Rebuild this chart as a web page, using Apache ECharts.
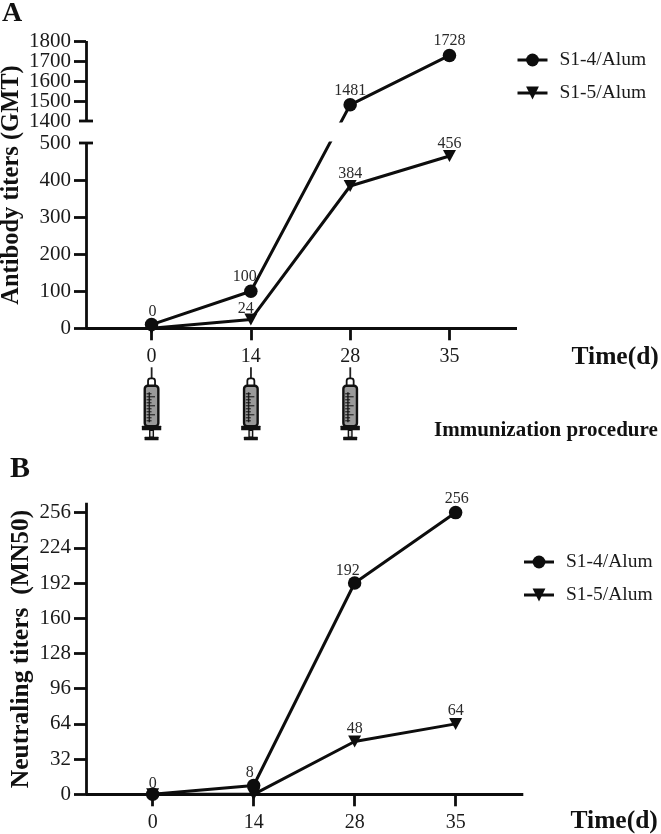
<!DOCTYPE html>
<html>
<head>
<meta charset="utf-8">
<style>html,body{margin:0;padding:0;background:#fff}#c{width:661px;height:834px}</style>
<script src="https://cdn.jsdelivr.net/npm/echarts@6/dist/echarts.min.js"></script>
</head>
<body>
<div id="c"></div>
<script>
// ---- data ----
const days = ['0', '14', '28', '35'];
const seriesNames = ['S1-4/Alum', 'S1-5/Alum'];
const gmtS14 = [10, 100, 1481, 1728];
const gmtS15 = [0, 24, 384, 465];
const gmtS14Labels = ['0', '100', '1481', '1728'];
const gmtS15Labels = ['', '24', '384', '456'];
const mnS14 = [0, 8, 192, 256];
const mnS15 = [0, 0, 48, 64];
const mnS14Labels = ['0', '8', '192', '256'];
const mnS15Labels = ['', '', '48', '64'];
const upperTicksEven = [1400, 1600, 1800];
const upperTicksOdd = [1500, 1700];
const lowerTicks = [0, 100, 200, 300, 400, 500];
const mnTicks = [0, 32, 64, 96, 128, 160, 192, 224, 256];
const doseDays = [0, 1, 2];

// ---- layout and style ----
const FONT = 'Liberation Serif';
const INK = '#0d0d0d';
const LW = 2.8;
const SERIES_LW = 3;
const upperH = 80, lowerH = 185.3, breakGap = 22;
const upperPx = upperH / 400, lowerPx = lowerH / 500;
const xMinA = -0.66, xMaxA = 3.68, xMinB = -0.66, xMaxB = 3.67;

// broken axis: one straight pixel line through both segments
const toLower = v => v <= 500 ? v : 500 + (breakGap + (v - 1400) * upperPx) / lowerPx;
const toUpper = v => v >= 1400 ? v : 1400 - (breakGap + (500 - v) * lowerPx) / upperPx;

const offA14 = [[1, -13], [-6, -14], [0, -14], [0, -15]];
const offA15 = [[0, 0], [-5, -11], [0, -12], [0, -12]];
const offB14 = [[0, -11], [-4, -13], [-7, -12], [1, -14]];
const offB15 = [[0, 0], [0, 0], [0, -13], [0, -13]];

const labelBase = {show: true, position: 'inside', color: '#2a2a2a', fontFamily: FONT, fontSize: 16};
const symbols = [
  {symbol: 'circle', symbolSize: 13.5, symbolRotate: 0},
  {symbol: 'triangle', symbolSize: [13, 12], symbolRotate: 180}
];

function line(name, idx, gridIdx, values, map, visible, labels, offs, z) {
  return Object.assign({
    type: 'line', name, xAxisIndex: gridIdx, yAxisIndex: gridIdx, clip: true, z,
    lineStyle: {color: INK, width: SERIES_LW}, itemStyle: {color: INK},
    showSymbol: true, animation: false,
    data: values.map((v, i) => {
      const shown = visible(v);
      return {
        value: [i, map(v)],
        symbol: shown ? symbols[idx].symbol : 'none',
        label: shown && labels[i] ? Object.assign({}, labelBase, {offset: offs[i], formatter: labels[i]}) : {show: false}
      };
    })
  }, symbols[idx]);
}

const axisStyle = {lineStyle: {color: INK, width: LW, cap: 'butt'}};
function yAxis(gridIdx, min, max, labelVals, tickVals, showLine) {
  return {
    type: 'value', gridIndex: gridIdx, min, max, position: 'left',
    axisLine: Object.assign({show: showLine, onZero: false}, axisStyle),
    axisTick: Object.assign({show: true, length: 12, inside: false, customValues: tickVals}, axisStyle),
    axisLabel: {show: true, customValues: labelVals, formatter: v => String(v), showMinLabel: true, showMaxLabel: true,
      margin: 15, color: '#1a1a1a', fontFamily: FONT, fontSize: 21},
    splitLine: {show: false}
  };
}
function xAxis(gridIdx, min, max, visible) {
  return {
    type: 'value', gridIndex: gridIdx, min, max, show: visible, position: 'bottom',
    axisLine: Object.assign({show: true, onZero: false}, axisStyle),
    axisTick: Object.assign({show: true, length: 12, customValues: [0, 1, 2, 3]}, axisStyle),
    axisLabel: {show: true, customValues: [0, 1, 2, 3], formatter: v => days[v], margin: 18,
      color: '#1a1a1a', fontFamily: FONT, fontSize: 20, showMinLabel: true, showMaxLabel: true},
    splitLine: {show: false}
  };
}

// break caps at the segment ends
function capSeries(gridIdx, xv, yv) {
  return {
    type: 'custom', xAxisIndex: gridIdx, yAxisIndex: gridIdx, silent: true, clip: false, z: 5,
    data: [[xv, yv]], encode: {x: 0, y: 1},
    renderItem: (p, api) => {
      const c = api.coord([api.value(0), api.value(1)]);
      return {type: 'line', shape: {x1: c[0] - 7, y1: c[1], x2: c[0] + 7, y2: c[1]},
        style: {stroke: INK, lineWidth: LW}};
    }
  };
}

// syringe pictogram under each dosing day
function syringe(p, api) {
  const c = api.coord([api.value(0), 0]);
  const x = c[0], y = c[1];
  const k = [];
  const rect = (dx, dy, w, h, fill, r, lw) => k.push({type: 'rect',
    shape: {x: x + dx, y: y + dy, width: w, height: h, r: r || 0},
    style: {fill: fill, stroke: lw ? '#111' : null, lineWidth: lw || 0}});
  rect(-0.8, 39, 1.8, 12, '#222');
  rect(-3.5, 50, 7, 9, '#fff', 2.5, 1.8);
  rect(-6.8, 57.5, 13.6, 40.5, '#9a9a9a', 3, 2.4);
  rect(-9.7, 97.5, 19.4, 4.5, '#111', 0.5);
  rect(-1.8, 102, 3.6, 7, '#ddd', 0, 1.4);
  rect(-7, 108.5, 14, 3.4, '#111', 0.5);
  rect(-3, 64, 1.5, 30, '#222');
  [65, 68, 71, 74, 77, 80, 83, 86, 89, 92].forEach((d, i) =>
    rect(-5, d, i % 3 === 1 ? 8.5 : 5, 1, '#111'));
  return {type: 'group', children: k};
}

const graphicText = (text, x, y, size, rot, align) => ({
  type: 'text', x, y, rotation: rot || 0, silent: true,
  style: {text, fontFamily: FONT, fontWeight: 'bold', fontSize: size, fill: '#111',
    align: align || 'left', verticalAlign: 'middle'}
});

function legend(left, top) {
  return {
    show: true, orient: 'vertical', left, top, itemWidth: 30, itemHeight: 16, itemGap: 13,
    data: seriesNames, selectedMode: false,
    lineStyle: {width: 3, color: INK},
    textStyle: {color: '#1a1a1a', fontFamily: FONT, fontSize: 19.5, padding: [0, 0, 0, 7]}
  };
}

const option = {
  backgroundColor: '#fff',
  animation: false,
  grid: [
    {left: 86, width: 431, top: 41, height: upperH},
    {left: 86, width: 431, top: 143, height: lowerH},
    {left: 86, width: 437.3, top: 502.7, height: 291.6}
  ],
  xAxis: [xAxis(0, xMinA, xMaxA, false), xAxis(1, xMinA, xMaxA, true), xAxis(2, xMinB, xMaxB, true)],
  yAxis: [
    yAxis(0, 1400, 1800, upperTicksEven, upperTicksEven.slice(1), true),
    yAxis(1, 0, 500, lowerTicks, lowerTicks.slice(0, -1), true),
    yAxis(2, 0, 265, mnTicks, mnTicks, true),
    yAxis(0, 1400, 1800, upperTicksOdd, upperTicksOdd, false)
  ],
  legend: [legend(511, 45), legend(517.5, 547)],
  series: [
    line(seriesNames[0], 0, 1, gmtS14, toLower, v => v <= 500, gmtS14Labels, offA14, 4),
    line(seriesNames[1], 1, 1, gmtS15, v => v, () => true, gmtS15Labels, offA15, 3),
    line(seriesNames[0], 0, 0, gmtS14, toUpper, v => v >= 1400, gmtS14Labels, offA14, 4),
    line(seriesNames[0], 0, 2, mnS14, v => v, () => true, mnS14Labels, offB14, 4),
    line(seriesNames[1], 1, 2, mnS15, v => v, () => true, mnS15Labels, offB15, 3),
    capSeries(0, xMinA, 1400),
    capSeries(1, xMinA, 500),
    {type: 'custom', xAxisIndex: 1, yAxisIndex: 1, silent: true, clip: false,
      data: doseDays.map(d => [d]), encode: {x: 0}, renderItem: syringe}
  ],
  graphic: [
    graphicText('A', 2, 14, 28),
    graphicText('B', 10, 469, 30),
    graphicText('Antibody titers (GMT)', 12, 185, 24.5, Math.PI / 2, 'center'),
    graphicText('Neutraling titers  (MN50)', 21, 649, 25.5, Math.PI / 2, 'center'),
    graphicText('Time(d)', 571.5, 357, 25.5),
    graphicText('Immunization procedure', 434, 431, 21),
    graphicText('Time(d)', 570.5, 821, 25.5)
  ]
};
const chart = echarts.init(document.getElementById('c'), null, {renderer: 'canvas'});
chart.setOption(option);
</script>
</body>
</html>
